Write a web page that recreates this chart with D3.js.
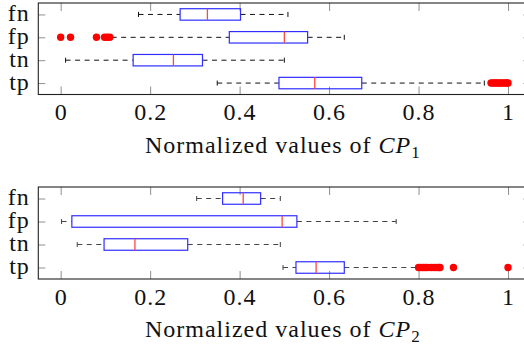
<!DOCTYPE html>
<html>
<head>
<meta charset="utf-8">
<script src="https://cdn.jsdelivr.net/npm/d3@7"></script>
<style>
  html, body { margin: 0; padding: 0; background: #fff; }
  svg { display: block; }
  svg text { font-family: "Liberation Serif", "DejaVu Serif", serif; fill: #111; }
</style>
</head>
<body>
<svg id="chart" width="524" height="347"></svg>
<script>
// Categories and axis ticks
const categories = ["fn", "fp", "tn", "tp"];
const xTicks = [0, 0.2, 0.4, 0.6, 0.8, 1];
const xTickLabels = ["0", "0.2", "0.4", "0.6", "0.8", "1"];

// Box statistics for CP1 (order follows categories)
const cp1Low = [0.174, 0.114, 0.011, 0.350];
const cp1Q1 = [0.267, 0.377, 0.162, 0.488];
const cp1Median = [0.328, 0.500, 0.252, 0.568];
const cp1Q3 = [0.402, 0.552, 0.317, 0.673];
const cp1High = [0.508, 0.634, 0.500, 0.947];
const cp1Outliers = [
  [],
  [0.000, 0.022, 0.080, 0.098, 0.104, 0.110],
  [],
  [0.962, 0.966, 0.970, 0.974, 0.978, 0.982, 0.986, 0.990, 0.994, 0.998, 1.000]
];

// Box statistics for CP2
const cp2Low = [0.304, 0.002, 0.037, 0.497];
const cp2Q1 = [0.362, 0.025, 0.097, 0.526];
const cp2Median = [0.408, 0.495, 0.166, 0.571];
const cp2Q3 = [0.447, 0.528, 0.284, 0.634];
const cp2High = [0.491, 0.750, 0.491, 0.797];
const cp2Outliers = [
  [],
  [],
  [],
  [0.800, 0.805, 0.810, 0.815, 0.820, 0.828, 0.834, 0.840, 0.845, 0.848, 0.878, 1.000]
];

const svg = d3.select("#chart");
const FONT = 24;
const SERIF = '"Liberation Serif", "DejaVu Serif", serif';

const x = d3.scaleLinear().domain([-0.05, 1.05]).range([38.3, 530.4]);

function panel(top, bottom, low, q1, med, q3, high, outliers, subscript, dashColor) {
  const y = d3.scalePoint().domain(categories).range([top, bottom]).padding(0.5);
  const step = y.step();
  const boxH = step * 0.5;
  const g = svg.append("g");

  // inward ticks on all four sides
  const tickColor = "#8f8f8f";
  const bottomAxis = g.append("g").attr("transform", `translate(0,${bottom})`)
    .call(d3.axisBottom(x).tickValues(xTicks).tickFormat((d, i) => xTickLabels[i])
      .tickSizeInner(-8).tickSizeOuter(0).tickPadding(8.7));
  const topAxis = g.append("g").attr("transform", `translate(0,${top})`)
    .call(d3.axisTop(x).tickValues(xTicks).tickFormat("").tickSizeInner(-8).tickSizeOuter(0));
  const leftAxis = g.append("g").attr("transform", `translate(${x.range()[0]},0)`)
    .call(d3.axisLeft(y).tickSizeInner(-7).tickSizeOuter(0).tickPadding(8.5));
  const rightAxis = g.append("g").attr("transform", `translate(${x.range()[1]},0)`)
    .call(d3.axisRight(y).tickFormat("").tickSizeInner(-7).tickSizeOuter(0));
  [bottomAxis, topAxis, leftAxis, rightAxis].forEach(a => {
    a.attr("font-family", SERIF).attr("font-size", FONT);
    a.select(".domain").remove();
    a.selectAll(".tick line").attr("stroke", tickColor).attr("stroke-width", 1);
    a.selectAll("text").attr("letter-spacing", "1px").attr("fill", "#111");
  });
  leftAxis.selectAll("text").attr("dy", "0.27em");

  const rows = categories.map((c, i) => ({
    c, low: low[i], q1: q1[i], med: med[i], q3: q3[i], high: high[i], out: outliers[i]
  }));

  // dashed whiskers
  const wg = g.append("g").attr("stroke", dashColor).attr("stroke-width", 1);
  wg.selectAll(".wl").data(rows).join("line").attr("class", "wl")
    .attr("x1", d => x(d.low)).attr("x2", d => x(d.q1))
    .attr("y1", d => y(d.c)).attr("y2", d => y(d.c))
    .attr("stroke-dasharray", "5,4.5");
  wg.selectAll(".wr").data(rows).join("line").attr("class", "wr")
    .attr("x1", d => x(d.q3)).attr("x2", d => x(d.high))
    .attr("y1", d => y(d.c)).attr("y2", d => y(d.c))
    .attr("stroke-dasharray", "5,4.5");
  // whisker caps
  const caps = rows.flatMap(d => [{ c: d.c, v: d.low }, { c: d.c, v: d.high }]);
  wg.selectAll(".cap").data(caps).join("line").attr("class", "cap")
    .attr("x1", d => x(d.v)).attr("x2", d => x(d.v))
    .attr("y1", d => y(d.c) - 2.5).attr("y2", d => y(d.c) + 2.5);

  // boxes
  g.selectAll(".box").data(rows).join("rect").attr("class", "box")
    .attr("x", d => x(d.q1)).attr("width", d => x(d.q3) - x(d.q1))
    .attr("y", d => y(d.c) - boxH / 2).attr("height", boxH)
    .attr("fill", "none").attr("stroke", "#2f2fff").attr("stroke-width", 1.2);
  // medians
  g.selectAll(".med").data(rows).join("line").attr("class", "med")
    .attr("x1", d => x(d.med)).attr("x2", d => x(d.med))
    .attr("y1", d => y(d.c) - boxH / 2).attr("y2", d => y(d.c) + boxH / 2)
    .attr("stroke", "#ff4646").attr("stroke-width", 1.3);

  // outliers
  const pts = rows.flatMap(d => d.out.map(v => ({ c: d.c, v })));
  g.selectAll(".out").data(pts).join("circle").attr("class", "out")
    .attr("cx", d => x(d.v)).attr("cy", d => y(d.c)).attr("r", 3.7)
    .attr("fill", "#ff0000");

  // frame
  g.append("rect")
    .attr("x", x.range()[0]).attr("y", top)
    .attr("width", x.range()[1] - x.range()[0]).attr("height", bottom - top)
    .attr("fill", "none").attr("stroke", "#222").attr("stroke-width", 1.1);

  // axis title
  const title = g.append("text")
    .attr("x", (x.range()[0] + x.range()[1]) / 2 - 1.5).attr("y", bottom + 58)
    .attr("text-anchor", "middle").attr("font-family", SERIF)
    .attr("font-size", FONT).attr("letter-spacing", "1px");
  title.append("tspan").text("Normalized values of ");
  title.append("tspan").attr("font-style", "italic").text("CP");
  title.append("tspan").attr("font-size", 17).attr("dy", 5).text(subscript);
}

panel(3, 94.5, cp1Low, cp1Q1, cp1Median, cp1Q3, cp1High, cp1Outliers, "1", "#111");
panel(187, 279, cp2Low, cp2Q1, cp2Median, cp2Q3, cp2High, cp2Outliers, "2", "#444");
</script>
</body>
</html>
